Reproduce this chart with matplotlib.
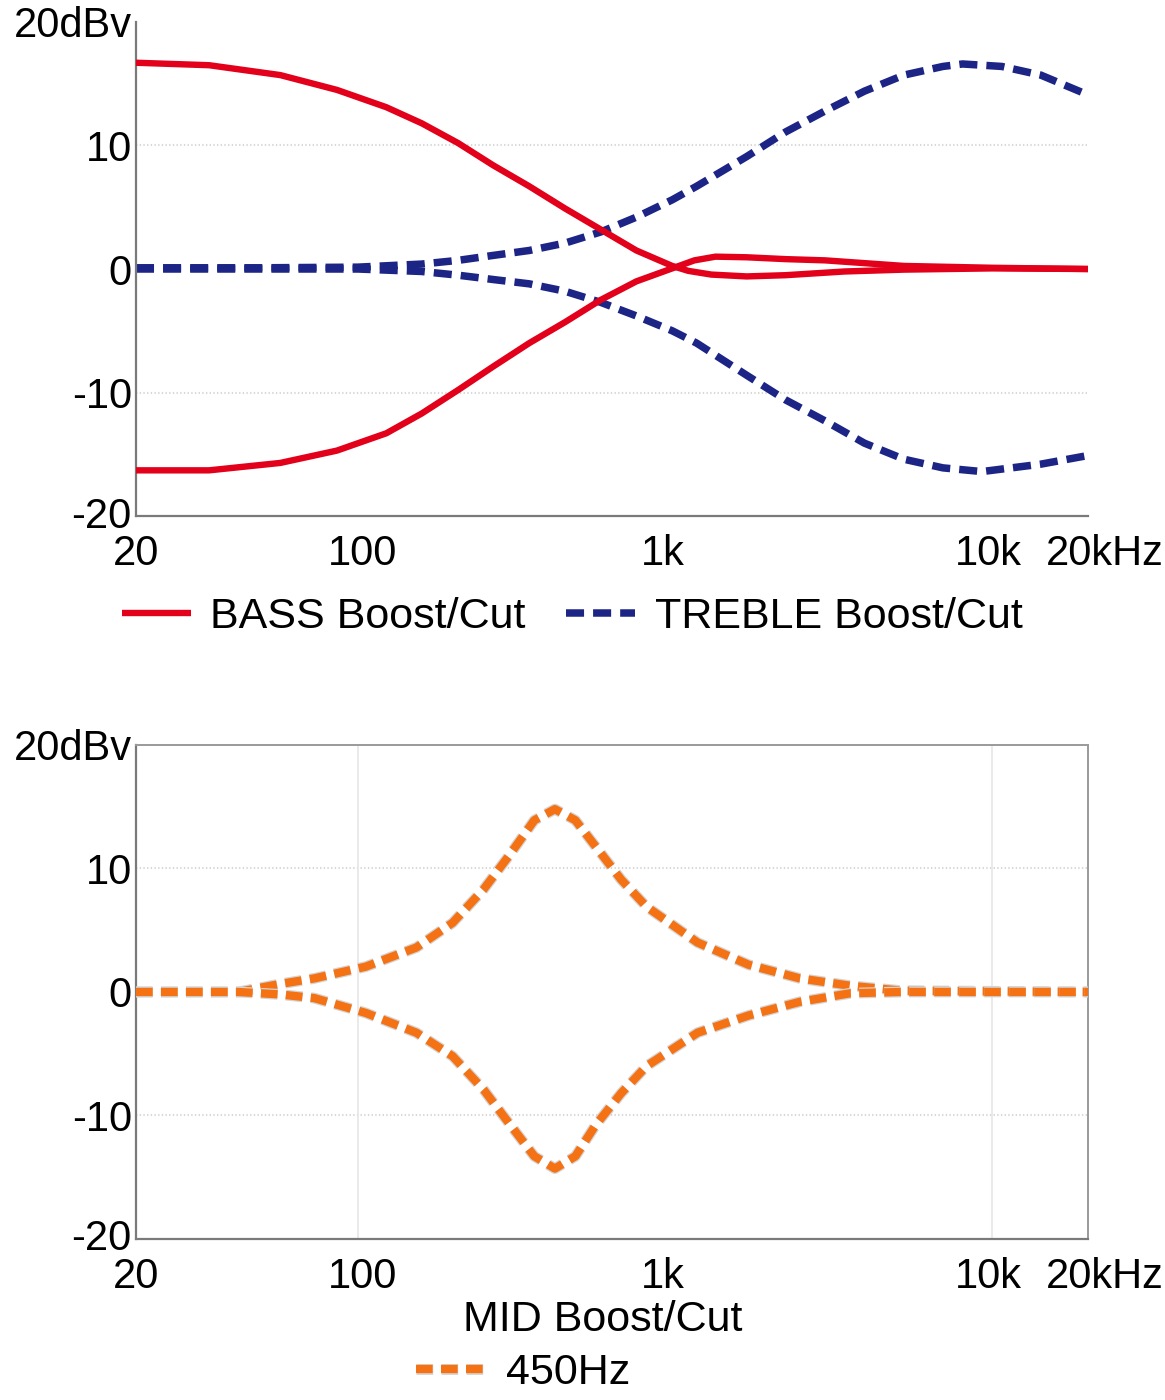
import matplotlib
matplotlib.use("Agg")
import matplotlib.pyplot as plt
import matplotlib.patheffects as pe
import matplotlib.transforms as mtransforms
from matplotlib.ticker import NullLocator

plt.rcParams['font.family'] = ['Liberation Sans', 'DejaVu Sans']
plt.rcParams['lines.scale_dashes'] = False

# ---- data ----
bass_boost_f = [20, 34, 57, 86, 123, 159, 207, 267, 347, 450, 583, 755, 979, 1100, 1300, 1680,
                2230, 3420, 5260, 10000, 20000]
bass_boost_db = [16.7, 16.5, 15.7, 14.5, 13.1, 11.8, 10.2, 8.4, 6.7, 4.9, 3.2, 1.5, 0.25, -0.15,
                 -0.45, -0.6, -0.5, -0.2, -0.05, 0.05, 0.0]

bass_cut_f = [20, 34, 57, 86, 123, 159, 207, 267, 347, 450, 583, 755, 979, 1150, 1340, 1680,
              2230, 2970, 5260, 10000, 20000]
bass_cut_db = [-16.3, -16.3, -15.7, -14.7, -13.3, -11.7, -9.8, -7.9, -6.0, -4.3, -2.5, -1.0, 0.05,
               0.7, 1.0, 0.95, 0.8, 0.7, 0.25, 0.1, 0.0]

treble_boost_f = [20, 50, 100, 159, 207, 267, 347, 450, 583, 755, 979, 1169, 1680, 2230, 2970,
                  3950, 5260, 6980, 8050, 10700, 14200, 20000]
treble_boost_db = [0.1, 0.1, 0.15, 0.4, 0.7, 1.1, 1.5, 2.1, 3.0, 4.2, 5.6, 6.7, 9.1, 11.1, 12.8,
                   14.4, 15.7, 16.4, 16.6, 16.4, 15.7, 14.1]

treble_cut_f = [20, 50, 100, 159, 207, 267, 347, 450, 583, 755, 979, 1169, 1680, 2230, 2970,
                3950, 5260, 6980, 9270, 14200, 20000]
treble_cut_db = [0.0, 0.0, 0.0, -0.2, -0.5, -0.85, -1.2, -1.8, -2.7, -3.8, -5.0, -6.0, -8.6, -10.6,
                 -12.3, -14.1, -15.4, -16.1, -16.4, -15.8, -15.1]

mid_boost_f = [20, 42, 57, 73, 106, 153, 199, 249, 299, 360, 418, 485, 561, 676, 813, 1177, 1706,
               2470, 3575, 5180, 20000]
mid_boost_db = [0.0, 0.0, 0.65, 1.1, 2.05, 3.6, 5.6, 8.3, 11.0, 13.9, 14.8, 13.9, 11.8, 9.1, 6.9,
                4.0, 2.2, 1.1, 0.5, 0.1, 0.0]

mid_cut_f = [20, 42, 57, 73, 106, 153, 199, 249, 299, 360, 418, 485, 561, 676, 813, 1177, 1706,
             2470, 3575, 5180, 20000]
mid_cut_db = [0.0, 0.0, -0.2, -0.5, -1.7, -3.3, -5.2, -7.9, -10.6, -13.3, -14.3, -13.3, -10.8,
              -8.2, -6.0, -3.3, -1.9, -0.8, -0.1, 0.0, 0.0]

x_ticks = [20, 100, 1000, 10000, 20000]
x_labels = ['20', '100', '1k', '10k', '20kHz']
y_ticks = [-20, -10, 0, 10, 20]
y_labels = ['-20', '-10', '0', '10', '20dBv']

RED = '#e2001a'
BLUE = '#1c2585'
ORANGE = '#f57214'
TICK_FS = 30
LEG_FS = 31

fig = plt.figure(figsize=(11.65, 14), dpi=100)
ax1 = fig.add_axes([0.1167, 0.6314, 0.8172, 0.3529])
ax2 = fig.add_axes([0.1167, 0.115, 0.8172, 0.3529])

# horizontal nudges (pixels) of x tick labels, as in the reference
label_nudge = {'100': 5, '1k': -12, '10k': -4, '20kHz': 17}

def style(ax, full_box):
    ax.set_xscale('log')
    ax.set_xlim(20, 20000)
    ax.set_ylim(-20, 20)
    ax.set_xticks(x_ticks)
    ax.set_xticklabels(x_labels)
    ax.xaxis.set_minor_locator(NullLocator())
    ax.set_yticks(y_ticks)
    ax.set_yticklabels(y_labels)
    ax.tick_params(axis='x', length=0, pad=13, labelsize=TICK_FS)
    ax.tick_params(axis='y', length=0, pad=3, labelsize=TICK_FS)
    for lbl in ax.get_xticklabels():
        dx = label_nudge.get(lbl.get_text(), 0)
        if dx:
            off = mtransforms.ScaledTranslation(dx / 100, 0, fig.dpi_scale_trans)
            lbl.set_transform(lbl.get_transform() + off)
    for lbl in ax.get_yticklabels():
        if lbl.get_text() == '-20':
            off = mtransforms.ScaledTranslation(0, 4 / 100, fig.dpi_scale_trans)
            lbl.set_transform(lbl.get_transform() + off)
    for s in ['left', 'bottom']:
        ax.spines[s].set_color('#7a7a7a')
        ax.spines[s].set_linewidth(1.6)
    for s in ['top', 'right']:
        ax.spines[s].set_visible(full_box)
        ax.spines[s].set_color('#9a9a9a')
        ax.spines[s].set_linewidth(1.4)
    for yv in (10, -10):
        ax.axhline(yv, color='#d8d8d8', lw=1.5, ls=':', zorder=0)

style(ax1, False)
style(ax2, True)
for xv in (100, 10000):
    ax2.axvline(xv, color='#e6e6e6', lw=1.2, zorder=0)

# top chart
l_bass, = ax1.plot(bass_boost_f, bass_boost_db, color=RED, lw=4.6, solid_capstyle='butt',
                   solid_joinstyle='round', label='BASS Boost/Cut', zorder=3)
ax1.plot(bass_cut_f, bass_cut_db, color=RED, lw=4.6, solid_capstyle='butt',
         solid_joinstyle='round', zorder=3)
l_treb, = ax1.plot(treble_boost_f, treble_boost_db, color=BLUE, lw=5.4, dashes=(13, 6.5),
                   label='TREBLE Boost/Cut', zorder=2)
ax1.plot(treble_cut_f, treble_cut_db, color=BLUE, lw=5.4, dashes=(13, 6.5), zorder=2)

fig.legend(handles=[l_bass, l_treb], loc='center', bbox_to_anchor=(0.491, 0.559),
           ncol=2, frameon=False, fontsize=LEG_FS, handlelength=1.6,
           handletextpad=0.45, columnspacing=0.95, borderpad=0)

# bottom chart
peff = [pe.Stroke(linewidth=7.8, foreground='#d4d4d4'), pe.Normal()]
l_mid, = ax2.plot(mid_boost_f, mid_boost_db, color=ORANGE, lw=6.0, dashes=(12, 6),
                  label='450Hz', path_effects=peff, zorder=3)
ax2.plot(mid_cut_f, mid_cut_db, color=ORANGE, lw=6.0, dashes=(12, 6),
         path_effects=peff, zorder=3)

fig.text(0.5176, 0.0571, 'MID Boost/Cut', ha='center', va='center', fontsize=LEG_FS)
fig.legend(handles=[l_mid], loc='center', bbox_to_anchor=(0.449, 0.019),
           frameon=False, fontsize=LEG_FS, handlelength=1.7,
           handletextpad=0.4, borderpad=0)

fig.savefig('out.png', dpi=100)
